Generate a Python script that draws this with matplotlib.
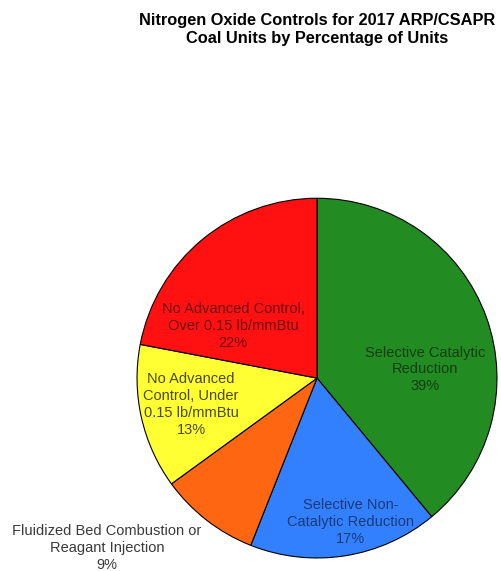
import matplotlib.pyplot as plt

plt.rcParams['font.family'] = ['Liberation Sans', 'DejaVu Sans']

# data
categories = [
    "Selective Catalytic\nReduction",
    "Selective Non-\nCatalytic Reduction",
    "Fluidized Bed Combustion or\nReagant Injection",
    "No Advanced\nControl, Under\n0.15 lb/mmBtu",
    "No Advanced Control,\nOver 0.15 lb/mmBtu",
]
percent = [39, 17, 9, 13, 22]

colors = ["#228B22", "#3380FF", "#FF6611", "#FFFF33", "#FF1111"]
text_colors = ["#123f12", "#1a3a78", "#3a3a3a", "#4a4a18", "#6e0c0c"]
label_pos = [(0.60, 0.048), (0.187, -0.80), (-1.167, -0.944), (-0.70, -0.145), (-0.467, 0.29)]

fig = plt.figure(figsize=(5.02, 5.71), dpi=100)
ax = fig.add_axes([0.273, 0.0228, 0.717, 0.630])

wedges, _ = ax.pie(percent, colors=colors, startangle=90, counterclock=False,
                   wedgeprops=dict(edgecolor="black", linewidth=0.8), radius=1)
ax.set_xlim(-1, 1)
ax.set_ylim(-1, 1)
ax.set_aspect("auto")
ax.axis("off")

for lab, p, (x, y), tc in zip(categories, percent, label_pos, text_colors):
    ax.text(x, y, f"{lab}\n{p}%", ha="center", va="center", fontsize=10.5,
            color=tc, linespacing=1.27, clip_on=False)

fig.text(0.6315, 0.9475, "Nitrogen Oxide Controls for 2017 ARP/CSAPR\nCoal Units by Percentage of Units",
         ha="center", va="center", fontsize=11.8, fontweight="bold", linespacing=1.25)

plt.savefig("out.png", dpi=100)
